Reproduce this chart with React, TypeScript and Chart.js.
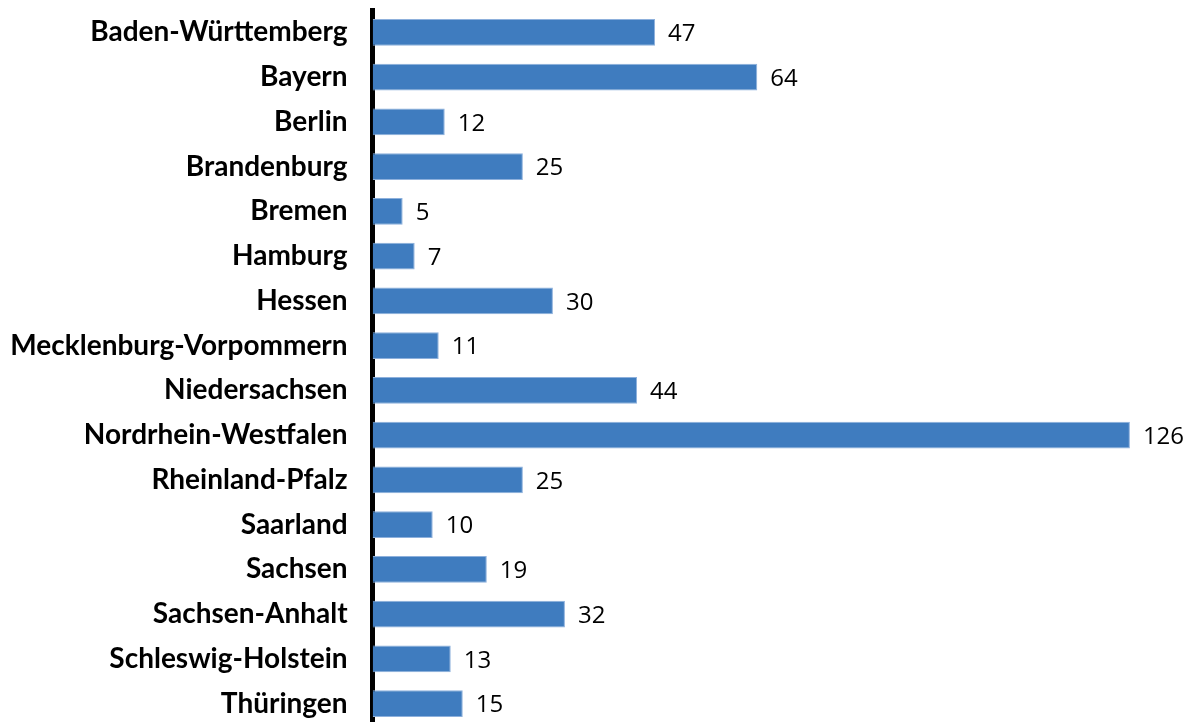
import React, { useEffect, useRef } from "react";
import { Chart, registerables } from "chart.js";

Chart.register(...registerables);

const categories: string[] = [
  "Baden-Württemberg",
  "Bayern",
  "Berlin",
  "Brandenburg",
  "Bremen",
  "Hamburg",
  "Hessen",
  "Mecklenburg-Vorpommern",
  "Niedersachsen",
  "Nordrhein-Westfalen",
  "Rheinland-Pfalz",
  "Saarland",
  "Sachsen",
  "Sachsen-Anhalt",
  "Schleswig-Holstein",
  "Thüringen",
];

const values: number[] = [47, 64, 12, 25, 5, 7, 30, 11, 44, 126, 25, 10, 19, 32, 13, 15];

const valueLabelPlugin = {
  id: "valueLabels",
  afterDatasetsDraw(chart: any) {
    const { ctx } = chart;
    const meta = chart.getDatasetMeta(0);
    ctx.save();
    ctx.font = "24px 'Open Sans'";
    ctx.fillStyle = "#000000";
    ctx.textAlign = "left";
    ctx.textBaseline = "middle";
    meta.data.forEach((bar: any, i: number) => {
      ctx.fillText(String(values[i]), bar.x + 13, bar.y + 2);
    });
    ctx.restore();
  },
};

export default function App() {
  const ref = useRef<HTMLCanvasElement | null>(null);

  useEffect(() => {
    if (!ref.current) return;
    const chart = new Chart(ref.current, {
      type: "bar",
      data: {
        labels: categories,
        datasets: [
          {
            data: values,
            backgroundColor: "#3F7CBF",
            borderColor: "#8DB0DC",
            borderWidth: 1,
            barPercentage: 0.6,
            categoryPercentage: 1,
          },
        ],
      },
      options: {
        indexAxis: "y",
        animation: false,
        responsive: false,
        maintainAspectRatio: false,
        layout: { padding: { top: 10, right: 0, bottom: 0, left: 0 } },
        plugins: {
          legend: { display: false },
          tooltip: { enabled: false },
        },
        scales: {
          x: {
            display: false,
            min: 0,
            max: 136,
          },
          y: {
            afterFit: (scale: any) => {
              scale.width = 372.6;
              scale.paddingTop = 0;
              scale.paddingBottom = 0;
            },
            grid: { display: false, drawTicks: false },
            border: { display: true, color: "#000000", width: 5 },
            ticks: {
              color: "#000000",
              padding: 25,
              font: { family: "Lato", weight: "bold", size: 28 },
            },
          },
        },
      },
      plugins: [valueLabelPlugin],
    });
    return () => chart.destroy();
  }, []);

  return (
    <div style={{ position: "fixed", top: 0, left: 0, width: 1190, height: 722, overflow: "hidden", background: "#ffffff" }}>
      <canvas ref={ref} width={1190} height={726} />
    </div>
  );
}
